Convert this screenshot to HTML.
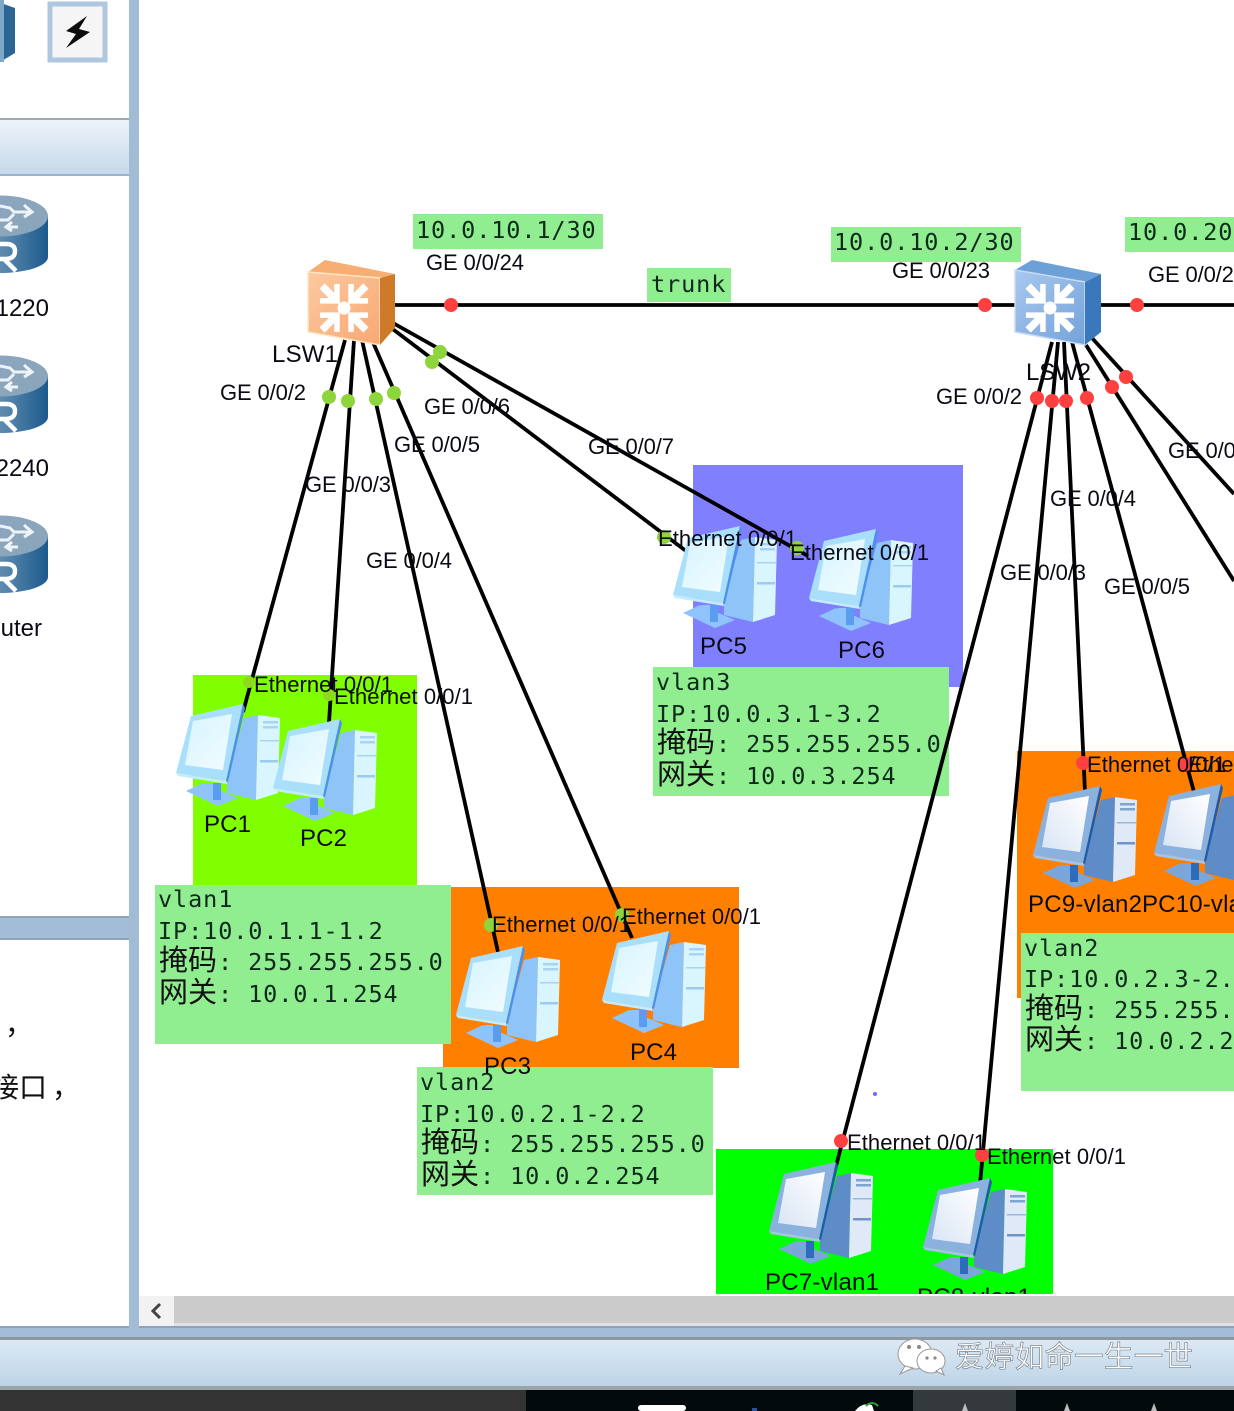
<!DOCTYPE html>
<html><head><meta charset="utf-8"><style>
html,body{margin:0;padding:0;background:#fff;width:1234px;height:1411px;overflow:hidden}
svg{display:block}
.t{font-family:"Liberation Sans",sans-serif;font-size:22px;fill:#0a0a14}
.m{font-family:"DejaVu Sans Mono","Liberation Mono",monospace;font-size:23.5px;letter-spacing:.9px;fill:#0c2a1c}
.c{font-family:"Liberation Sans","Noto Sans CJK SC",sans-serif;font-size:29px;fill:#111}
.p{font-family:"Liberation Sans",sans-serif;font-size:24px;fill:#0a0a14}
</style></head><body>
<svg width="1234" height="1411" viewBox="0 0 1234 1411" xmlns="http://www.w3.org/2000/svg">
<defs>
<linearGradient id="hd" x1="0" y1="0" x2="0" y2="1"><stop offset="0" stop-color="#edf3f9"/><stop offset="1" stop-color="#c6d9ea"/></linearGradient>
<linearGradient id="ft" x1="0" y1="0" x2="0" y2="1"><stop offset="0" stop-color="#dce9f4"/><stop offset="1" stop-color="#bdd4e7"/></linearGradient>
<linearGradient id="rt" x1="0" y1="0" x2="1" y2="0"><stop offset="0" stop-color="#8aa8c4"/><stop offset=".55" stop-color="#5a88ae"/><stop offset="1" stop-color="#1c5a8c"/></linearGradient>
<linearGradient id="of" x1="0" y1="0" x2="1" y2="1"><stop offset="0" stop-color="#fcc9a0"/><stop offset="1" stop-color="#f8a873"/></linearGradient>
<linearGradient id="bf" x1="0" y1="0" x2="1" y2="1"><stop offset="0" stop-color="#a8c8ee"/><stop offset="1" stop-color="#74a2da"/></linearGradient>
<linearGradient id="sL" x1="0" y1="0" x2="1" y2="1"><stop offset="0" stop-color="#d6f4ff"/><stop offset="1" stop-color="#f2fcff"/></linearGradient>
<linearGradient id="sD" x1="0" y1="1" x2="1" y2="0"><stop offset="0" stop-color="#d8e4f4"/><stop offset="1" stop-color="#ffffff"/></linearGradient>
<g id="chev">
<path d="M-12,-22 L0,-10 L12,-22" stroke="#fff" stroke-width="5.5" fill="none"/>
<path d="M0,-14 V-31" stroke="#fff" stroke-width="7.5" fill="none"/>
</g>
<g id="arrows">
<circle cx="0" cy="0" r="6.5" fill="#fff"/>
<use href="#chev" transform="rotate(-45)"/><use href="#chev" transform="rotate(45)"/><use href="#chev" transform="rotate(135)"/><use href="#chev" transform="rotate(225)"/>
</g>
<g id="pcL">
<polygon points="11,86 28,78 63,93 43,101" fill="#8ec4fb"/><rect x="30" y="78" width="8" height="14" fill="#8ec4fb"/><rect x="38" y="78" width="8" height="17" fill="#5a9cf0"/>
<polygon points="69,13 83,10 81,95 52,88 52,74" fill="#8fc4f8"/>
<polygon points="83,10 105,13 103,88 81,95" fill="#d9f6ff"/>
<rect x="88" y="16" width="15" height="2.5" fill="#a8d4f4"/><rect x="88" y="21" width="15" height="2.5" fill="#a8d4f4"/><rect x="85" y="35" width="19" height="1.5" fill="#a8d4f4"/><rect x="85" y="55" width="18" height="2.5" fill="#9ccbf2"/>
<polygon points="16,11 68,-1 51,76 1,68" fill="#aadffc"/><polygon points="68,-1 70,3 53,77 51,76" fill="#4b90ea"/>
<polygon points="18,16 57,9 48,65 10,60" fill="url(#sL)"/>
<polygon points="1,68 51,76 52,79 3,71" fill="#c4ecff"/>
</g>
<g id="pcD">
<polygon points="11,86 28,78 63,93 43,101" fill="#7ba6da"/><rect x="30" y="78" width="8" height="14" fill="#7ba6da"/><rect x="38" y="78" width="8" height="17" fill="#2d6cb8"/>
<polygon points="69,13 83,10 81,95 52,88 52,74" fill="#5e8cc6"/>
<polygon points="83,10 105,13 103,88 81,95" fill="#dfe9f7"/>
<rect x="88" y="16" width="15" height="2.5" fill="#7fa3d2"/><rect x="88" y="21" width="15" height="2.5" fill="#7fa3d2"/><rect x="85" y="35" width="19" height="1.5" fill="#9ab6dc"/><rect x="85" y="55" width="18" height="2.5" fill="#6e96ca"/>
<polygon points="16,11 68,-1 51,76 1,68" fill="#8bb1df"/><polygon points="68,-1 70,3 53,77 51,76" fill="#1d5cad"/>
<polygon points="18,16 57,9 48,65 10,60" fill="url(#sD)"/>
<polygon points="1,68 51,76 52,79 3,71" fill="#a6c4e8"/>
</g>
<g id="router">
<path d="M-48,23 L-48,64 A48,16 0 0 0 48,64 L48,23Z" fill="url(#rt)"/>
<ellipse cx="0" cy="23" rx="48" ry="20.5" fill="#8ba5bd"/>
<path d="M-5,12 L10,15 L14,19 H30 M24,12 L32,19 L24,24 M-8,27 H8 L14,21 M6,34 H18 M12,29 L6,34 L12,38" stroke="#eef3f8" stroke-width="3" fill="none"/>
<path d="M-15,51 H6 Q15,51 15,58 Q15,66 5,66 H-15 M4,66 L16,78" stroke="#fff" stroke-width="4.5" fill="none"/>
</g>
</defs>

<rect width="1234" height="1411" fill="#fff"/>

<!-- left panel -->
<rect x="0" y="0" width="129" height="1326" fill="#fff"/>
<path d="M-30,8 L-8,0 L15,8 V53 L0,62 H-30Z" fill="#2a6595"/>
<rect x="0" y="0" width="4" height="62" fill="#7fa8c8"/>
<rect x="50" y="4" width="55" height="56" fill="#f5f5f5" stroke="#aec6de" stroke-width="5"/>
<path d="M87,16 L66,31 L76,34 L66,48 L90,32 L79,29Z" fill="#0c0c0c"/>
<rect x="0" y="118" width="129" height="2" fill="#a0a8b0"/>
<rect x="0" y="120" width="129" height="54" fill="url(#hd)"/>
<rect x="0" y="174" width="129" height="2" fill="#9db4c8"/>
<use href="#router" x="0" y="193"/>
<use href="#router" x="0" y="353"/>
<use href="#router" x="0" y="513"/>
<text class="p" x="49" y="316" text-anchor="end">1220</text>
<text class="p" x="49" y="476" text-anchor="end">2240</text>
<text class="p" x="42" y="636" text-anchor="end">uter</text>
<rect x="0" y="916" width="129" height="2" fill="#8fa4b8"/>
<rect x="0" y="918" width="129" height="20" fill="#a3bdd8"/>
<rect x="0" y="938" width="129" height="2" fill="#8fa4b8"/>
<text class="c" x="5" y="1034" style="font-size:28px">，</text>
<text class="c" x="-9" y="1097" style="font-size:28px">接口</text>
<text class="c" x="52" y="1097" style="font-size:28px">，</text>
<rect x="129" y="0" width="10" height="1340" fill="#a3bcd6"/>

<!-- canvas regions -->
<rect x="193" y="675" width="224" height="210" fill="#80ff00"/>
<rect x="443" y="887" width="296" height="181" fill="#ff8000"/>
<rect x="693" y="465" width="270" height="222" fill="#8080ff"/>
<rect x="1017" y="751" width="217" height="247" fill="#ff8000"/>
<rect x="716" y="1149" width="337" height="145" fill="#00ff00"/>

<!-- labels boxes -->
<g fill="#90ee90">
<rect x="155" y="885" width="296" height="159"/>
<rect x="417" y="1067" width="296" height="128"/>
<rect x="653" y="667" width="296" height="129"/>
<rect x="1021" y="933" width="213" height="158"/>
<rect x="413" y="214" width="190" height="35"/>
<rect x="831" y="227" width="190" height="35"/>
<rect x="1125" y="217" width="109" height="35"/>
<rect x="647" y="268" width="84" height="34"/>
</g>

<g>
<text class="m" x="416" y="238">10.0.10.1/30</text>
<text class="m" x="834" y="250">10.0.10.2/30</text>
<text class="m" x="1128" y="240">10.0.20</text>
<text class="m" x="651" y="292">trunk</text>

<text class="m" x="158" y="907">vlan1</text>
<text class="m" x="158" y="939">IP:10.0.1.1-1.2</text>
<text class="c" x="159" y="970">掩码</text><text class="m" x="218" y="970">: 255.255.255.0</text>
<text class="c" x="159" y="1002">网关</text><text class="m" x="218" y="1002">: 10.0.1.254</text>

<text class="m" x="420" y="1090">vlan2</text>
<text class="m" x="420" y="1122">IP:10.0.2.1-2.2</text>
<text class="c" x="421" y="1152">掩码</text><text class="m" x="480" y="1152">: 255.255.255.0</text>
<text class="c" x="421" y="1184">网关</text><text class="m" x="480" y="1184">: 10.0.2.254</text>

<text class="m" x="656" y="690">vlan3</text>
<text class="m" x="656" y="722">IP:10.0.3.1-3.2</text>
<text class="c" x="657" y="752">掩码</text><text class="m" x="716" y="752">: 255.255.255.0</text>
<text class="c" x="657" y="784">网关</text><text class="m" x="716" y="784">: 10.0.3.254</text>

<text class="m" x="1024" y="956">vlan2</text>
<text class="m" x="1024" y="987">IP:10.0.2.3-2.4</text>
<text class="c" x="1025" y="1018">掩码</text><text class="m" x="1084" y="1018">: 255.255.255.0</text>
<text class="c" x="1025" y="1049">网关</text><text class="m" x="1084" y="1049">: 10.0.2.254</text>
</g>

<!-- connectors -->
<g stroke="#000" stroke-width="3.8" fill="none" stroke-linecap="butt">
<line x1="390" y1="305" x2="1020" y2="305"/>
<line x1="1095" y1="305" x2="1234" y2="305"/>
<line x1="345" y1="340" x2="243" y2="712"/>
<line x1="354" y1="340" x2="329" y2="722"/>
<line x1="362" y1="340" x2="498" y2="952"/>
<line x1="372" y1="340" x2="632" y2="938"/>
<line x1="390" y1="327" x2="686" y2="551"/>
<line x1="393" y1="323" x2="808" y2="556"/>
<line x1="1052" y1="342" x2="835" y2="1170"/>
<line x1="1058" y1="342" x2="980" y2="1184"/>
<line x1="1064" y1="342" x2="1085" y2="792"/>
<line x1="1072" y1="342" x2="1194" y2="792"/>
<line x1="1086" y1="345" x2="1234" y2="581"/>
<line x1="1092" y1="338" x2="1234" y2="494"/>
</g>

<!-- switches -->
<g transform="translate(308,260)">
<polygon points="0,12 17,0 87,14 72,18" fill="#f7ae72"/>
<polygon points="0,12 72,18 72,85 0,72" fill="url(#of)" stroke="#ffe6c4" stroke-width="1.5"/>
<polygon points="72,18 87,14 87,68 72,85" fill="#cf7a28"/>
<g transform="translate(36,48)"><use href="#arrows"/></g>
</g>
<g transform="translate(1015,260)">
<polygon points="0,10 17,0 86,14 70,22" fill="#6ea0d8"/>
<polygon points="0,10 70,22 70,85 0,72" fill="url(#bf)" stroke="#c8dcf4" stroke-width="1.5"/>
<polygon points="70,22 86,14 86,72 70,85" fill="#3a78bd"/>
<g transform="translate(35,48)"><use href="#arrows"/></g>
</g>

<!-- PCs -->
<use href="#pcL" x="175" y="705"/>
<use href="#pcL" x="272" y="720"/>
<use href="#pcL" x="455" y="947"/>
<use href="#pcL" x="601" y="932"/>
<use href="#pcL" x="672" y="527"/>
<use href="#pcL" x="808" y="530"/>
<use href="#pcD" x="768" y="1163"/>
<use href="#pcD" x="922" y="1179"/>
<use href="#pcD" x="1032" y="787"/>
<use href="#pcD" x="1153" y="785"/>

<!-- dots -->
<g fill="#8ed53c">
<circle cx="329" cy="397" r="7"/><circle cx="348" cy="401" r="7"/><circle cx="376" cy="399" r="7"/><circle cx="394" cy="393" r="7"/>
<circle cx="432" cy="362" r="7"/><circle cx="440" cy="352" r="7"/>
<circle cx="664" cy="537" r="7"/><circle cx="797" cy="548" r="7"/>
<circle cx="491" cy="925" r="7"/><circle cx="622" cy="915" r="7"/>
<circle cx="249" cy="682" r="6" fill="#8fd820"/><circle cx="329" cy="695" r="6" fill="#8fd820"/>
</g>
<g fill="#ff4040">
<circle cx="451" cy="305" r="7"/><circle cx="985" cy="305" r="7"/><circle cx="1137" cy="305" r="7"/>
<circle cx="1037" cy="398" r="7"/><circle cx="1052" cy="401" r="7"/><circle cx="1066" cy="401" r="7"/><circle cx="1087" cy="398" r="7"/>
<circle cx="1112" cy="387" r="7"/><circle cx="1126" cy="377" r="7"/>
<circle cx="841" cy="1141" r="7"/><circle cx="982" cy="1155" r="7"/><circle cx="1083" cy="763" r="7"/><circle cx="1186" cy="764" r="7"/>
</g>
<circle cx="875" cy="1094" r="2" fill="#6a6aff"/>

<!-- interface labels -->
<g>
<text class="t" x="426" y="270" textLength="98">GE 0/0/24</text>
<text class="t" x="892" y="278" textLength="98">GE 0/0/23</text>
<text class="t" x="1148" y="282" textLength="98">GE 0/0/22</text>
<text class="p" x="272" y="362" textLength="66">LSW1</text>
<text class="p" x="1026" y="380" textLength="65">LSW2</text>
<text class="t" x="220" y="400" textLength="86">GE 0/0/2</text>
<text class="t" x="305" y="492" textLength="86">GE 0/0/3</text>
<text class="t" x="394" y="452" textLength="86">GE 0/0/5</text>
<text class="t" x="366" y="568" textLength="86">GE 0/0/4</text>
<text class="t" x="424" y="414" textLength="86">GE 0/0/6</text>
<text class="t" x="588" y="454" textLength="86">GE 0/0/7</text>
<text class="t" x="936" y="404" textLength="86">GE 0/0/2</text>
<text class="t" x="1050" y="506" textLength="86">GE 0/0/4</text>
<text class="t" x="1000" y="580" textLength="86">GE 0/0/3</text>
<text class="t" x="1104" y="594" textLength="86">GE 0/0/5</text>
<text class="t" x="1168" y="458" textLength="86">GE 0/0/6</text>
<text class="t" x="254" y="692" textLength="139">Ethernet 0/0/1</text>
<text class="t" x="334" y="704" textLength="139">Ethernet 0/0/1</text>
<text class="t" x="492" y="932" textLength="139">Ethernet 0/0/1</text>
<text class="t" x="622" y="924" textLength="139">Ethernet 0/0/1</text>
<text class="t" x="658" y="546" textLength="139">Ethernet 0/0/1</text>
<text class="t" x="790" y="560" textLength="139">Ethernet 0/0/1</text>
<text class="t" x="847" y="1150" textLength="139">Ethernet 0/0/1</text>
<text class="t" x="987" y="1164" textLength="139">Ethernet 0/0/1</text>
<text class="t" x="1087" y="772" textLength="139">Ethernet 0/0/1</text>
<text class="t" x="1188" y="772" textLength="139">Ethernet 0/0/1</text>
<text class="p" x="204" y="832" textLength="47">PC1</text>
<text class="p" x="300" y="846" textLength="47">PC2</text>
<text class="p" x="484" y="1074" textLength="47">PC3</text>
<text class="p" x="630" y="1060" textLength="47">PC4</text>
<text class="p" x="700" y="654" textLength="47">PC5</text>
<text class="p" x="838" y="658" textLength="47">PC6</text>
<text class="p" x="765" y="1290" textLength="114">PC7-vlan1</text>
<text class="p" x="917" y="1305" textLength="114">PC8-vlan1</text>
<text class="p" x="1028" y="912" textLength="114">PC9-vlan2</text>
<text class="p" x="1142" y="912" textLength="127">PC10-vlan2</text>
</g>

<!-- scrollbar + footer -->
<rect x="139" y="1294" width="1095" height="2" fill="#fff"/>
<rect x="139" y="1296" width="35" height="30" fill="#f2f2f2"/>
<path d="M160,1304 L153,1311 L160,1318" stroke="#444" stroke-width="3" fill="none"/>
<rect x="174" y="1296" width="1060" height="29" fill="#cbcbcb"/>
<rect x="174" y="1323" width="1060" height="3" fill="#e2e2e2"/>
<rect x="139" y="1326" width="1095" height="3" fill="#8ea3b8"/>
<rect x="0" y="1326" width="129" height="2" fill="#8ea3b8"/>
<rect x="0" y="1328" width="1234" height="9" fill="#a3bdd8"/>
<rect x="0" y="1337" width="1234" height="3" fill="#8c979f"/>
<rect x="0" y="1340" width="1234" height="46" fill="url(#ft)"/>
<rect x="0" y="1386" width="1234" height="4" fill="#9aa3a8"/>
<rect x="0" y="1390" width="526" height="21" fill="#333"/>
<rect x="526" y="1390" width="708" height="21" fill="#020a0c"/>
<rect x="913" y="1390" width="103" height="21" fill="#33393c"/>
<rect x="638" y="1405" width="48" height="6" rx="3" fill="#fff"/>
<rect x="752" y="1408" width="5" height="3" fill="#2a50a0"/>
<path d="M855,1411 Q862,1402 872,1405 L874,1411Z" fill="#fff"/><path d="M866,1406 Q872,1400 878,1406" stroke="#3a9a3a" stroke-width="2" fill="none"/>
<path d="M962,1411 l3,-8 l3,8Z M1064,1411 l3,-8 l3,8Z M1151,1411 l3,-8 l3,8Z" fill="#bbb"/>

<!-- watermark -->
<ellipse cx="915" cy="1354" rx="17" ry="15" fill="#fff" stroke="#999"/>
<path d="M905,1366 L900,1374 L913,1368Z" fill="#fff" stroke="#999"/>
<ellipse cx="931" cy="1361" rx="14" ry="12" fill="#fff" stroke="#999"/>
<path d="M936,1371 L944,1375 L941,1368Z" fill="#fff" stroke="#999"/>
<circle cx="909" cy="1347" r="2" fill="#888"/><circle cx="919" cy="1347" r="2" fill="#888"/>
<circle cx="927" cy="1358" r="1.6" fill="#888"/><circle cx="935" cy="1358" r="1.6" fill="#888"/>
<text x="955" y="1367" font-size="29.5" textLength="238" style="font-family:'Liberation Sans','Noto Sans CJK SC',sans-serif;fill:#fff;stroke:#6c7680;stroke-width:.6">爱婷如命一生一世</text>
</svg>
</body></html>
